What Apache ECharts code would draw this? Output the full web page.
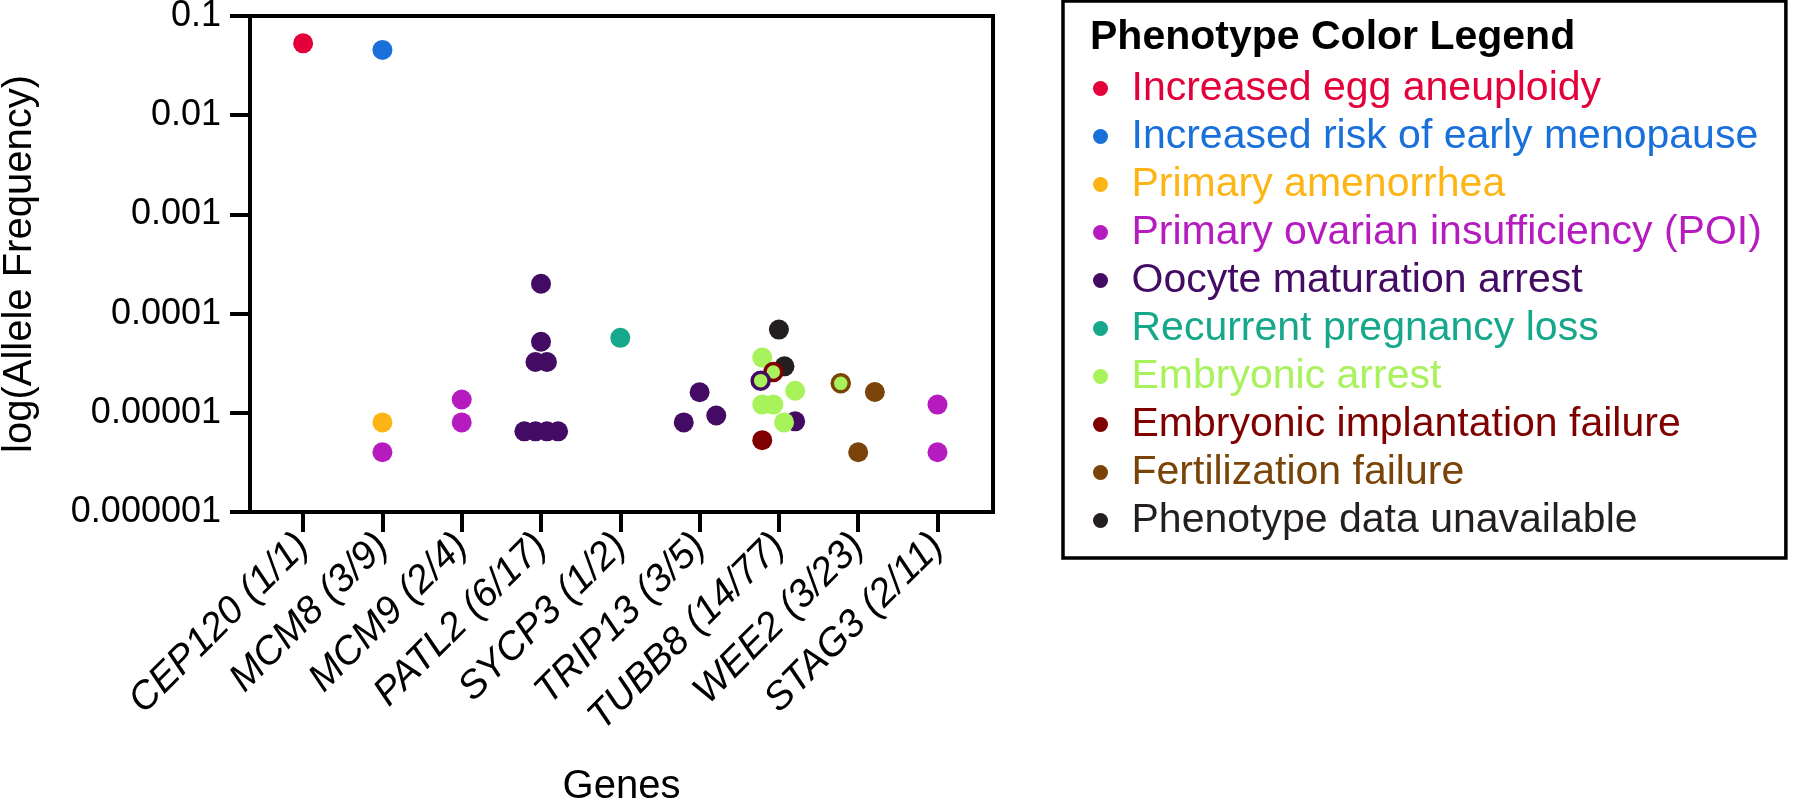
<!DOCTYPE html>
<html>
<head>
<meta charset="utf-8">
<script src="https://cdn.jsdelivr.net/npm/echarts@6/dist/echarts.min.js"></script>
<style>
  html, body { margin: 0; padding: 0; background: #fff; }
  #chart { width: 1800px; height: 802px; }
</style>
</head>
<body>
<div id="chart"></div>
<script>
// ---------------- DATA ----------------
const genes = ['CEP120', 'MCM8', 'MCM9', 'PATL2', 'SYCP3', 'TRIP13', 'TUBB8', 'WEE2', 'STAG3'];
const geneCounts = ['1/1', '3/9', '2/4', '6/17', '1/2', '3/5', '14/77', '3/23', '2/11'];
const yTickLabels = ['0.000001', '0.00001', '0.0001', '0.001', '0.01', '0.1'];

const phenotypes = [
  'Increased egg aneuploidy',
  'Increased risk of early menopause',
  'Primary amenorrhea',
  'Primary ovarian insufficiency (POI)',
  'Oocyte maturation arrest',
  'Recurrent pregnancy loss',
  'Embryonic arrest',
  'Embryonic implantation failure',
  'Fertilization failure',
  'Phenotype data unavailable'
];

// allele frequencies per phenotype (gene, value)
const eggAneuploidyGenes = ['CEP120'];
const eggAneuploidyValues = [0.053];
const earlyMenopauseGenes = ['MCM8'];
const earlyMenopauseValues = [0.0455];
const primaryAmenorrheaGenes = ['MCM8'];
const primaryAmenorrheaValues = [8.0e-6];
const poiGenes = ['MCM8', 'MCM9', 'MCM9', 'STAG3', 'STAG3'];
const poiValues = [4.0e-6, 1.36e-5, 8.0e-6, 1.21e-5, 4.0e-6];
const oocyteArrestGenes = ['PATL2', 'PATL2', 'PATL2', 'PATL2', 'PATL2', 'PATL2', 'PATL2', 'PATL2', 'TRIP13', 'TRIP13', 'TRIP13', 'TUBB8'];
const oocyteArrestValues = [2.0e-4, 5.2e-5, 3.25e-5, 3.25e-5, 6.5e-6, 6.5e-6, 6.5e-6, 6.5e-6, 1.61e-5, 8.0e-6, 9.4e-6, 8.2e-6];
const pregnancyLossGenes = ['SYCP3'];
const pregnancyLossValues = [5.7e-5];
const embryonicArrestGenes = ['TUBB8', 'TUBB8', 'TUBB8', 'TUBB8', 'TUBB8'];
const embryonicArrestValues = [3.6e-5, 1.67e-5, 1.21e-5, 1.21e-5, 8.0e-6];
const implantationFailureGenes = ['TUBB8'];
const implantationFailureValues = [5.3e-6];
const fertilizationFailureGenes = ['WEE2', 'WEE2'];
const fertilizationFailureValues = [1.62e-5, 4.0e-6];
const unavailableGenes = ['TUBB8', 'TUBB8'];
const unavailableValues = [6.9e-5, 2.94e-5];
// variants with two phenotypes (embryonic arrest + another)
const arrestOocyteGenes = ['TUBB8'];
const arrestOocyteValues = [2.11e-5];
const arrestImplantGenes = ['TUBB8'];
const arrestImplantValues = [2.58e-5];
const arrestFertGenes = ['WEE2'];
const arrestFertValues = [1.98e-5];

// ---------------- LAYOUT / STYLE ----------------
// horizontal scatter offsets (category units) so overlapping dots spread like the original
const swarm = {
  egg: [0], meno: [0], amen: [0], poi: [0, 0, 0, 0, 0],
  oocyte: [0, 0, -0.07, 0.075, -0.21, -0.07, 0.075, 0.215, 0, -0.2, 0.21, 0.205],
  loss: [0], arrest: [-0.21, 0.205, -0.21, -0.07, 0.065],
  implant: [-0.21], fert: [0.21, 0], unavail: [0, 0.07],
  arrOoc: [-0.23], arrImp: [-0.07], arrFert: [-0.22]
};
const colors = ['#E4003A', '#1A70DB', '#FDB515', '#B51BBF', '#430B63', '#16A88A', '#A8F25C', '#800000', '#7A4408', '#231F20'];
const FONT = '"Liberation Sans", Arial, Helvetica, sans-serif';

function pts(gs, vs, offs) {
  return gs.map((g, i) => [genes.indexOf(g) + offs[i], vs[i]]);
}

function dotSeries(name, data, color) {
  return {
    type: 'scatter', name: name, data: data, symbol: 'circle', symbolSize: 20,
    itemStyle: { color: color, opacity: 1 },
    emphasis: { disabled: true }, silent: true
  };
}
function ringSeries(name, data, borderColor) {
  return {
    type: 'scatter', name: name, data: data, symbol: 'circle', symbolSize: 17,
    itemStyle: { color: colors[6], borderColor: borderColor, borderWidth: 3.5, opacity: 1 },
    emphasis: { disabled: true }, silent: true
  };
}

const series = [
  dotSeries(phenotypes[0], pts(eggAneuploidyGenes, eggAneuploidyValues, swarm.egg), colors[0]),
  dotSeries(phenotypes[1], pts(earlyMenopauseGenes, earlyMenopauseValues, swarm.meno), colors[1]),
  dotSeries(phenotypes[2], pts(primaryAmenorrheaGenes, primaryAmenorrheaValues, swarm.amen), colors[2]),
  dotSeries(phenotypes[3], pts(poiGenes, poiValues, swarm.poi), colors[3]),
  dotSeries(phenotypes[4], pts(oocyteArrestGenes, oocyteArrestValues, swarm.oocyte), colors[4]),
  dotSeries(phenotypes[5], pts(pregnancyLossGenes, pregnancyLossValues, swarm.loss), colors[5]),
  dotSeries(phenotypes[6], pts(embryonicArrestGenes, embryonicArrestValues, swarm.arrest), colors[6]),
  dotSeries(phenotypes[7], pts(implantationFailureGenes, implantationFailureValues, swarm.implant), colors[7]),
  dotSeries(phenotypes[8], pts(fertilizationFailureGenes, fertilizationFailureValues, swarm.fert), colors[8]),
  dotSeries(phenotypes[9], pts(unavailableGenes, unavailableValues, swarm.unavail), colors[9]),
  ringSeries('Embryonic implantation failure + arrest', pts(arrestImplantGenes, arrestImplantValues, swarm.arrImp), colors[7]),
  ringSeries('Oocyte maturation arrest + embryonic arrest', pts(arrestOocyteGenes, arrestOocyteValues, swarm.arrOoc), colors[4]),
  ringSeries('Fertilization failure + embryonic arrest', pts(arrestFertGenes, arrestFertValues, swarm.arrFert), colors[8])
];

const geneIdx = genes.map((g, i) => i);
const chart = echarts.init(document.getElementById('chart'), null, { renderer: 'canvas' });
chart.setOption({
  animation: false,
  backgroundColor: '#fff',
  textStyle: { fontFamily: FONT },
  title: {
    text: 'Phenotype Color Legend', left: 1090, top: 17, padding: 0,
    textStyle: { fontFamily: FONT, fontSize: 41, fontWeight: 'bold', color: '#000' }
  },
  legend: {
    orient: 'vertical', left: 1063, top: 1,
    padding: [67, 24, 17, 30],
    itemWidth: 52, itemHeight: 15, itemGap: 7, icon: 'circle',
    borderColor: '#000', borderWidth: 3.5, backgroundColor: 'transparent',
    selectedMode: false,
    data: phenotypes.map((p, i) => ({ name: p, textStyle: { color: colors[i] } })),
    textStyle: { fontFamily: FONT, fontSize: 41, lineHeight: 41, padding: 0 }
  },
  grid: {
    left: 250, top: 16, width: 743, height: 496,
    show: true, borderColor: '#000', borderWidth: 4, backgroundColor: 'transparent',
    outerBoundsMode: 'none', containLabel: false
  },
  xAxis: {
    type: 'value', min: -0.67, max: 8.7,
    name: 'Genes', nameLocation: 'middle', nameGap: 255,
    nameTextStyle: { fontFamily: FONT, fontSize: 40, color: '#000' },
    axisLine: { show: true, onZero: false, lineStyle: { color: '#000', width: 4 } },
    axisTick: { show: true, customValues: geneIdx, length: 20, lineStyle: { color: '#000', width: 4 } },
    axisLabel: {
      customValues: geneIdx, rotate: 45, margin: 28,
      fontFamily: FONT, fontSize: 39, fontStyle: 'italic', color: '#000',
      formatter: v => genes[Math.round(v)] + ' (' + geneCounts[Math.round(v)] + ')'
    },
    splitLine: { show: false }
  },
  yAxis: {
    type: 'log', logBase: 10, min: 1e-6, max: 0.1,
    name: 'log(Allele Frequency)', nameLocation: 'middle', nameGap: 210, nameRotate: 90,
    nameTextStyle: { fontFamily: FONT, fontSize: 40, color: '#000' },
    axisLine: { show: true, onZero: false, lineStyle: { color: '#000', width: 4 } },
    axisTick: { show: true, length: 20, lineStyle: { color: '#000', width: 4 } },
    minorTick: { show: false },
    axisLabel: {
      margin: 29, fontFamily: FONT, fontSize: 36, color: '#000',
      formatter: v => yTickLabels[Math.round(Math.log10(v)) + 6]
    },
    splitLine: { show: false }
  },
  series: series
});
</script>
</body>
</html>
